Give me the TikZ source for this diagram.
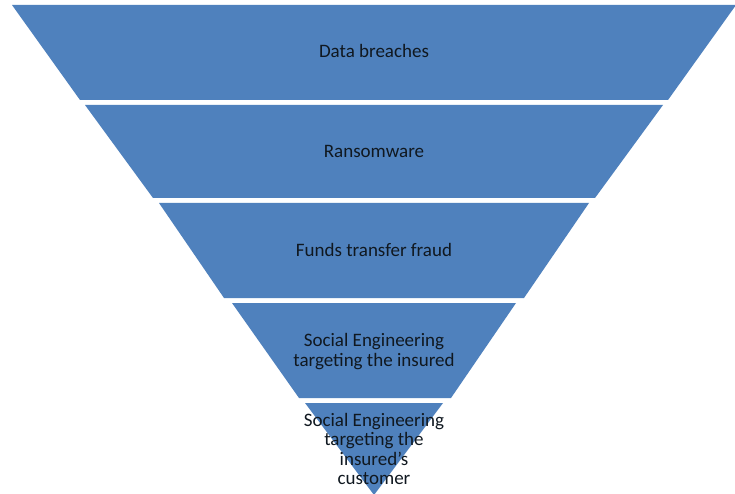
\documentclass[tikz,border=0pt]{standalone}
\usepackage{fontspec}
\setmainfont{Carlito}
\definecolor{bandblue}{HTML}{4F81BD}
\definecolor{txt}{HTML}{101820}
\begin{document}
\begin{tikzpicture}[x=1pt,y=-1pt,
  band/.style={fill=bandblue,draw=none},
  lbl/.style={text=txt,font=\fontsize{19}{19.3}\selectfont,align=center,inner sep=0pt,anchor=base}]
\useasboundingbox (0,0) rectangle (735,494);
\fill[white] (0,0) rectangle (735,494);
% bands (trapezoids of the inverted funnel)
\path[band] (12,5) -- (736,5) -- (668,100) -- (80,100) -- cycle;
\path[band] (85,105) -- (663,105) -- (595,198) -- (153,198) -- cycle;
\path[band] (159,203) -- (589,203) -- (524,298) -- (224,298) -- cycle;
\path[band] (232,303) -- (516,303) -- (451,398) -- (299,398) -- cycle;
\path[band] (305,403) -- (443,403) -- (374,495) -- cycle;
% labels (base anchor = baseline of the last line)
\node[lbl] (t1) at (374,58) {Data breaches};
\node[lbl] (t2) at (374,158) {Ransomware};
\node[lbl] (t3) at (374,256) {Funds transfer fraud};
\node[lbl] (t4) at (374,366) {Social Engineering\\targeting the insured};
\node[lbl] (t5) at (374,484.5) {Social Engineering\\targeting the\\insured's\\customer};
\end{tikzpicture}
\end{document}
